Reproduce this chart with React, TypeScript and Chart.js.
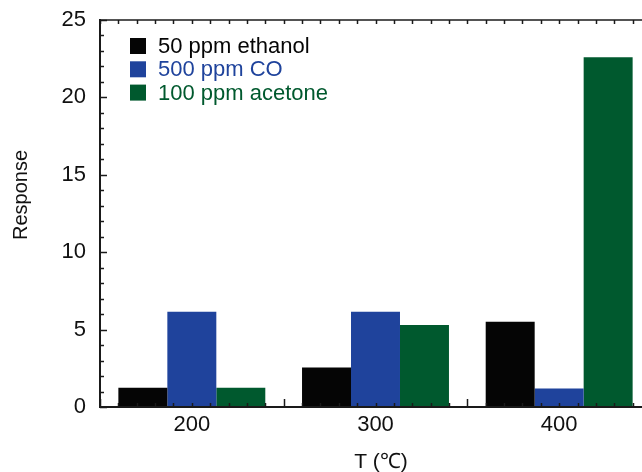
import React, { useEffect, useRef } from "react";
import { Chart, registerables } from "chart.js";

Chart.register(...registerables);

const categories = ["200", "300", "400"];
const seriesNames = ["50 ppm ethanol", "500 ppm CO", "100 ppm acetone"];
const ethanol = [1.25, 2.55, 5.5];
const co = [6.15, 6.15, 1.2];
const acetone = [1.25, 5.3, 22.6];
const yMin = 0;
const yMax = 25;
const yStep = 5;
const seriesColors = ["#050505", "#1f439c", "#00592e"];
const xTitle = "T (\u2103)";
const yTitle = "Response";

const FONT = "'Liberation Sans', Arial, Helvetica, sans-serif";
const AXIS = "#1a1a1a";

const framePlugin = {
  id: "frame",
  afterDatasetsDraw(chart: any) {
    const { ctx, chartArea } = chart;
    const { left, right, top, bottom } = chartArea;
    const x = chart.scales.x;
    const y = chart.scales.y;
    ctx.save();
    ctx.strokeStyle = AXIS;
    ctx.lineCap = "butt";

    // y ticks (inward)
    ctx.lineWidth = 1.5;
    for (let v = yMin; v <= yMax; v += 1) {
      const py = Math.round(y.getPixelForValue(v)) + 0.5;
      const len = v % yStep === 0 ? 7 : 4;
      ctx.beginPath();
      ctx.moveTo(left, py);
      ctx.lineTo(left + len, py);
      ctx.stroke();
    }

    // x ticks: minor every tenth of a category, major at category boundaries
    const n = categories.length;
    const cw = (x.getPixelForValue(1) - x.getPixelForValue(0));
    const start = x.getPixelForValue(0) - cw / 2;
    const steps = n * 10;
    for (let k = 0; k <= steps; k++) {
      const px = Math.round(start + (k * cw) / 10) + 0.5;
      if (px > right + 1) break;
      const major = k % 10 === 0;
      ctx.beginPath();
      ctx.moveTo(px, top);
      ctx.lineTo(px, top + 4);
      ctx.stroke();
      ctx.beginPath();
      ctx.moveTo(px, bottom);
      ctx.lineTo(px, bottom - (major ? 8 : 4));
      ctx.stroke();
    }

    // axis lines
    ctx.lineWidth = 2;
    ctx.beginPath();
    ctx.moveTo(left, top - 1);
    ctx.lineTo(left, bottom + 1);
    ctx.moveTo(left - 1, bottom);
    ctx.lineTo(right + 10, bottom);
    ctx.stroke();
    ctx.lineWidth = 1.5;
    ctx.beginPath();
    ctx.moveTo(left - 1, top);
    ctx.lineTo(right + 10, top);
    ctx.stroke();

    // legend
    ctx.font = `22px ${FONT}`;
    ctx.textBaseline = "middle";
    ctx.textAlign = "left";
    chart.data.datasets.forEach((ds: any, i: number) => {
      const cy = top + 26 + i * 23.3;
      ctx.fillStyle = ds.backgroundColor;
      ctx.fillRect(left + 30, cy - 8, 16, 16);
      ctx.fillText(ds.label, left + 58, cy + 1);
    });

    // axis titles
    ctx.fillStyle = "#111";
    ctx.font = `21px ${FONT}`;
    ctx.textAlign = "center";
    ctx.textBaseline = "middle";
    ctx.fillText(xTitle, 381, 462);
    ctx.save();
    ctx.translate(21, 195);
    ctx.rotate(-Math.PI / 2);
    ctx.font = `20px ${FONT}`;
    ctx.fillText(yTitle, 0, 0);
    ctx.restore();

    ctx.restore();
  },
};

export default function App() {
  const ref = useRef<HTMLCanvasElement>(null);
  useEffect(() => {
    const canvas = ref.current!;
    const chart = new Chart(canvas, {
      type: "bar",
      data: {
        labels: categories,
        datasets: [ethanol, co, acetone].map((d, i) => ({
          label: seriesNames[i],
          data: d,
          backgroundColor: seriesColors[i],
          borderWidth: 0,
          categoryPercentage: 0.8,
          barPercentage: 1.0,
        })),
      },
      options: {
        responsive: false,
        animation: false,
        devicePixelRatio: 1,
        layout: { padding: { top: 20, right: 9, left: 0, bottom: 0 } },
        plugins: { legend: { display: false }, tooltip: { enabled: false } },
        scales: {
          x: {
            grid: { display: false, drawTicks: false },
            border: { display: false },
            ticks: { color: "#111", font: { family: FONT, size: 22 }, padding: 5 },
            afterFit: (s: any) => { s.height = 65; s.paddingLeft = 0; s.paddingRight = 0; },
          },
          y: {
            min: yMin,
            max: yMax,
            grid: { display: false, drawTicks: false },
            border: { display: false },
            ticks: { stepSize: yStep, color: "#111", font: { family: FONT, size: 22 }, padding: 14 },
            afterFit: (s: any) => { s.width = 100; s.paddingTop = 0; s.paddingBottom = 0; },
          },
        },
      },
      plugins: [framePlugin],
    });
    return () => chart.destroy();
  }, []);
  return (
    <div style={{ position: "fixed", left: 0, top: 0, width: 642, height: 472, overflow: "hidden", background: "#fff" }}>
      <canvas ref={ref} width={660} height={472} style={{ display: "block", width: 660, height: 472 }} />
    </div>
  );
}
